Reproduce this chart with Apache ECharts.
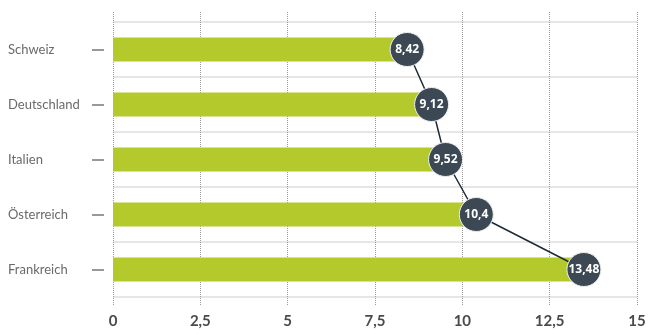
<!DOCTYPE html>
<html>
<head>
<meta charset="utf-8">
<script src="https://cdn.jsdelivr.net/npm/echarts@6/dist/echarts.min.js"></script>
<style>
  html, body { margin: 0; padding: 0; background: #fff; }
  #chart { width: 653px; height: 334px; }
</style>
</head>
<body>
<div id="chart"></div>
<script>
// Countries, top to bottom
const countries = ['Schweiz', 'Deutschland', 'Italien', 'Österreich', 'Frankreich'];
// Value per country
const values = [8.42, 9.12, 9.52, 10.4, 13.48];
// Value axis range and step
const axisMin = 0;
const axisMax = 15;
const axisStep = 2.5;

const fmt = v => String(v).replace('.', ',');

const chart = echarts.init(document.getElementById('chart'), null, { renderer: 'canvas' });

const font = '"Open Sans", "Noto Sans", sans-serif';
const axisFont = 'Lato, "Open Sans", sans-serif';

chart.setOption({
  animation: false,
  backgroundColor: '#ffffff',
  grid: [
    // main plotting area
    { left: 113, right: 16, top: 22, bottom: 37 },
    // slightly taller area carrying the dotted vertical guides
    { left: 113, right: 16, top: 12, bottom: 29 }
  ],
  xAxis: [
    {
      gridIndex: 0,
      type: 'value',
      min: axisMin, max: axisMax, interval: axisStep,
      axisLine: { show: false },
      axisTick: { show: false },
      splitLine: { show: false },
      axisLabel: {
        margin: 17,
        color: '#4a4a4a',
        fontSize: 15,
        fontWeight: 'bold',
        fontFamily: axisFont,
        formatter: v => fmt(v)
      }
    },
    {
      gridIndex: 1,
      type: 'value',
      min: axisMin, max: axisMax, interval: axisStep,
      axisLine: { show: false },
      axisTick: { show: false },
      axisLabel: { show: false },
      splitLine: { show: true, lineStyle: { color: '#9a9a9a', type: 'dotted', width: 1 } }
    }
  ],
  yAxis: [
    {
      gridIndex: 0,
      type: 'category',
      data: countries,
      inverse: true,
      axisLine: { show: false },
      axisTick: { show: false },
      splitLine: { show: true, lineStyle: { color: '#e6e6e6', width: 2 } },
      axisLabel: {
        margin: 105,
        align: 'left',
        color: '#6a6a6a',
        fontSize: 13,
        fontFamily: axisFont
      }
    },
    {
      gridIndex: 1,
      type: 'category',
      data: countries,
      inverse: true,
      show: false
    },
    {
      // short dashes beside the country names
      gridIndex: 0,
      type: 'category',
      data: countries,
      inverse: true,
      position: 'left',
      offset: 9,
      axisLine: { show: false },
      axisLabel: { show: false },
      splitLine: { show: false },
      axisTick: { show: true, alignWithLabel: true, length: 12, lineStyle: { color: '#999999', width: 2 } }
    }
  ],
  series: [
    {
      type: 'bar',
      xAxisIndex: 0, yAxisIndex: 0,
      data: values,
      barWidth: 24,
      itemStyle: { color: '#b3c92c' },
      z: 2
    },
    {
      type: 'line',
      xAxisIndex: 0, yAxisIndex: 0,
      data: values.map((v, i) => [v, countries[i]]),
      symbol: 'circle',
      symbolSize: 34,
      lineStyle: { color: '#1e2a36', width: 1.5 },
      itemStyle: { color: '#3c4954', borderColor: '#eef0f1', borderWidth: 1 },
      label: {
        show: true,
        position: 'inside',
        color: '#ffffff',
        fontSize: 12,
        fontWeight: 'bold',
        fontFamily: font,
        formatter: p => fmt(p.value[0])
      },
      z: 3
    }
  ]
});
</script>
</body>
</html>
